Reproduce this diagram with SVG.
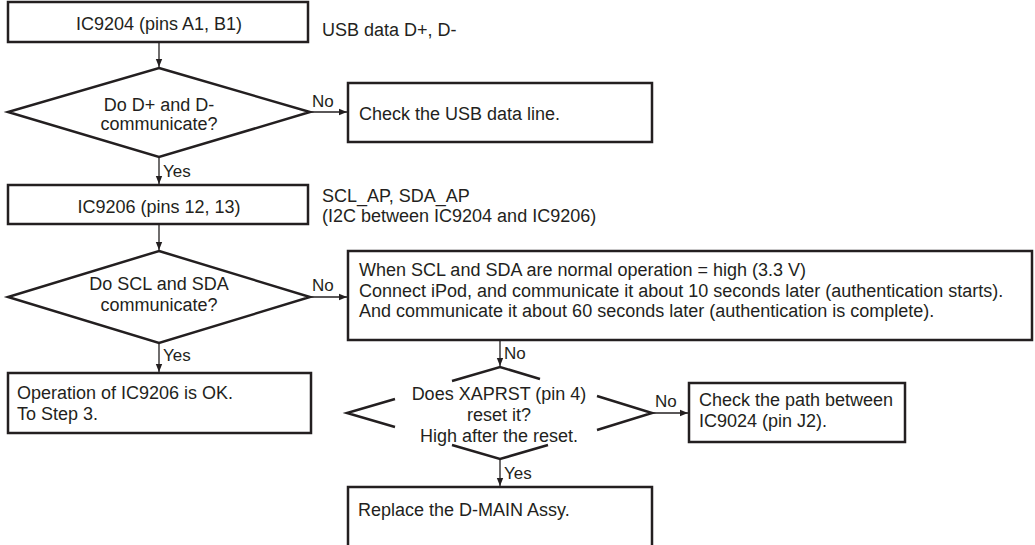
<svg xmlns="http://www.w3.org/2000/svg" width="1035" height="545" viewBox="0 0 1035 545">
<style>
  .box { fill: #fff; stroke: #231f20; stroke-width: 2.5; }
  .dia { fill: #fff; stroke: #231f20; stroke-width: 2.5; }
  .seg { fill: none; stroke: #231f20; stroke-width: 2.5; }
  .t { font-family: "Liberation Sans", Arial, sans-serif; font-size: 18px; fill: #231f20; }
  .c { text-anchor: middle; }
  .lbl { font-family: "Liberation Sans", Arial, sans-serif; font-size: 17px; fill: #231f20; }
  .con { fill: none; stroke: #231f20; stroke-width: 1.3; marker-end: url(#ah); }
</style>
<defs>
  <marker id="ah" viewBox="0 0 10 10" refX="10" refY="5" markerWidth="8" markerHeight="8" markerUnits="userSpaceOnUse" orient="auto">
    <path d="M0,1 L10,5 L0,9 Z" fill="#231f20"/>
  </marker>
</defs>
<rect width="1035" height="545" fill="#fff"/>

<g id="connectors">
  <line class="con" x1="159" y1="42" x2="159" y2="67"/>
  <line class="con" x1="310" y1="112" x2="347" y2="112"/>
  <line class="con" x1="159" y1="157" x2="159" y2="184"/>
  <line class="con" x1="159" y1="224" x2="159" y2="250"/>
  <line class="con" x1="310" y1="297" x2="347" y2="297"/>
  <line class="con" x1="159" y1="343" x2="159" y2="372"/>
  <line class="con" x1="500" y1="340" x2="500" y2="366"/>
  <line class="con" x1="652" y1="413" x2="688" y2="413"/>
  <line class="con" x1="500" y1="459" x2="500" y2="486"/>
  <text class="lbl" x="312" y="107">No</text>
  <text class="lbl" x="163" y="177">Yes</text>
  <text class="lbl" x="312" y="291">No</text>
  <text class="lbl" x="163" y="361">Yes</text>
  <text class="lbl" x="504" y="359">No</text>
  <text class="lbl" x="655" y="407">No</text>
  <text class="lbl" x="504" y="479">Yes</text>
</g>

<g id="n1">
  <rect class="box" x="8" y="2" width="300" height="40"/>
  <text class="t c" x="159" y="30">IC9204 (pins A1, B1)</text>
</g>
<g id="note1">
  <text class="t" x="322" y="36">USB data D+, D-</text>
</g>

<g id="d1">
  <polygon class="dia" points="159,68 310,112 159,157 8,112"/>
  <text class="t c" x="159" y="111">Do D+ and D-</text>
  <text class="t c" x="159" y="130">communicate?</text>
</g>

<g id="n2">
  <rect class="box" x="348" y="83" width="304" height="59"/>
  <text class="t" x="359" y="120">Check the USB data line.</text>
</g>

<g id="n3">
  <rect class="box" x="8" y="185" width="300" height="39"/>
  <text class="t c" x="159" y="213">IC9206 (pins 12, 13)</text>
</g>
<g id="note2">
  <text class="t" x="322" y="202">SCL_AP, SDA_AP</text>
  <text class="t" x="322" y="222">(I2C between IC9204 and IC9206)</text>
</g>

<g id="d2">
  <polygon class="dia" points="159,251 310,297 159,343 8,297"/>
  <text class="t c" x="159" y="290">Do SCL and SDA</text>
  <text class="t c" x="159" y="311">communicate?</text>
</g>

<g id="n4">
  <rect class="box" x="348" y="251" width="684" height="89"/>
  <text class="t" x="359" y="276">When SCL and SDA are normal operation = high (3.3 V)</text>
  <text class="t" x="359" y="297">Connect iPod, and communicate it about 10 seconds later (authentication starts).</text>
  <text class="t" x="359" y="317">And communicate it about 60 seconds later (authentication is complete).</text>
</g>

<g id="n5">
  <rect class="box" x="8" y="373" width="303" height="60"/>
  <text class="t" x="17" y="399">Operation of IC9206 is OK.</text>
  <text class="t" x="17" y="420">To Step 3.</text>
</g>

<g id="d3">
  <path class="seg" d="M452,381 L500,367 L540,379 M395,399 L347,413 L395,427 M597,396 L652,413 L597,430 M452,445 L500,459 L548,445"/>
  <text class="t c" x="499" y="400">Does XAPRST (pin 4)</text>
  <text class="t c" x="499" y="421">reset it?</text>
  <text class="t c" x="499" y="442">High after the reset.</text>
</g>

<g id="n6">
  <rect class="box" x="689" y="383" width="216" height="59"/>
  <text class="t" x="699" y="406">Check the path between</text>
  <text class="t" x="699" y="427">IC9024 (pin J2).</text>
</g>

<g id="n7">
  <rect class="box" x="348" y="487" width="304" height="70"/>
  <text class="t" x="358" y="516">Replace the D-MAIN Assy.</text>
</g>
</svg>
